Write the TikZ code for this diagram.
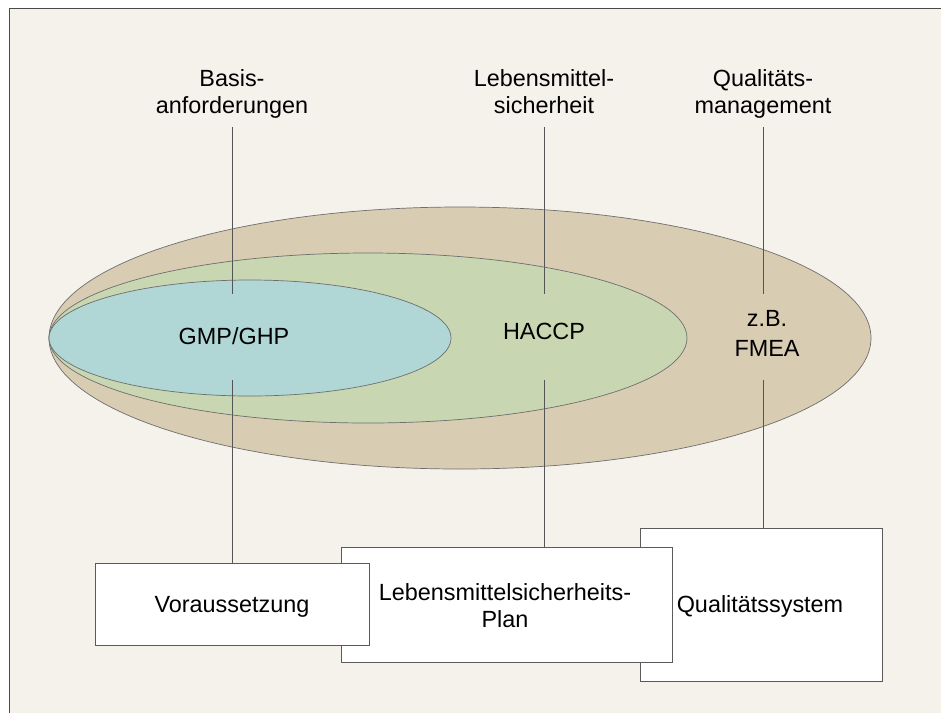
\documentclass[tikz,border=0pt]{standalone}
\usepackage{fontspec}
\setmainfont{Liberation Sans}
\definecolor{bgc}{HTML}{F5F2EC}
\definecolor{framec}{HTML}{4A4A4A}
\definecolor{tanc}{HTML}{D8CCB2}
\definecolor{greenc}{HTML}{C8D7B2}
\definecolor{bluec}{HTML}{B1D6D6}
\definecolor{edgec}{HTML}{6E6E6E}
\definecolor{linec}{HTML}{555555}
\definecolor{boxline}{HTML}{5A5A5A}
\begin{document}
\begin{tikzpicture}[x=1pt,y=-1pt,
  lbl/.style={font=\fontsize{23.4}{27}\selectfont, align=center, text=black, inner sep=0pt},
  lblw/.style={font=\fontsize{23.4}{30}\selectfont, align=center, text=black, inner sep=0pt},
  boxnode/.style={draw=boxline, fill=white, line width=0.9pt, inner sep=0pt},
  conn/.style={draw=linec, line width=0.9pt},
  ell/.style={draw=edgec, line width=0.7pt}]
\useasboundingbox (0,0) rectangle (941,713);
\fill[white] (0,0) rectangle (941,713);
\fill[bgc] (9,8) rectangle (941,713);
\draw[framec, line width=1pt] (9,713) -- (9,8) -- (941,8);

% ellipses
\draw[ell, fill=tanc] (460,338) ellipse [x radius=411pt, y radius=131pt];
\draw[ell, fill=greenc] (368,338) ellipse [x radius=319pt, y radius=85pt];
\draw[ell, fill=bluec] (250,338) ellipse [x radius=201pt, y radius=58pt];

% top labels (base anchor = last line baseline)
\node[lbl, anchor=base] (basis) at (232,113) {Basis-\\anforderungen};
\node[lbl, anchor=base] (lmsicher) at (544,113) {Lebensmittel-\\sicherheit};
\node[lbl, anchor=base] (qm) at (763,113) {Qualitäts-\\management};

% inner labels
\node[lbl, anchor=base] (gmp) at (234,344) {GMP/GHP};
\node[lbl, anchor=base] (haccp) at (544,339) {HACCP};
\node[lblw, anchor=base] (fmea) at (767,356) {z.B.\\FMEA};

% boxes (back to front)
\node[boxnode, minimum width=242pt, minimum height=153pt] (qsbox) at (761,604.5) {};
\node[boxnode, minimum width=331pt, minimum height=115pt] (planbox) at (506.5,604.5) {};
\node[boxnode, minimum width=274pt, minimum height=82pt] (vorbox) at (232,604) {};

\node[lbl, anchor=base] (qstext) at (760,612) {Qualitätssystem};
\node[lbl, anchor=base] (plantext) at (505,627) {Lebensmittelsicherheits-\\Plan};
\node[lbl, anchor=base] (vortext) at (232,612) {Voraussetzung};

% connector end points
\coordinate (a1) at (232,127); \coordinate (a2) at (232,294); \coordinate (a3) at (232,380);
\coordinate (b1) at (544,127); \coordinate (b2) at (544,294); \coordinate (b3) at (544,380);
\coordinate (c1) at (763,127); \coordinate (c2) at (763,294); \coordinate (c3) at (763,380);

\draw[conn] (a1) -- (a2);
\draw[conn] (a3) -- (vorbox.north -| a3);
\draw[conn] (b1) -- (b2);
\draw[conn] (b3) -- (planbox.north -| b3);
\draw[conn] (c1) -- (c2);
\draw[conn] (c3) -- (qsbox.north -| c3);
\end{tikzpicture}
\end{document}
